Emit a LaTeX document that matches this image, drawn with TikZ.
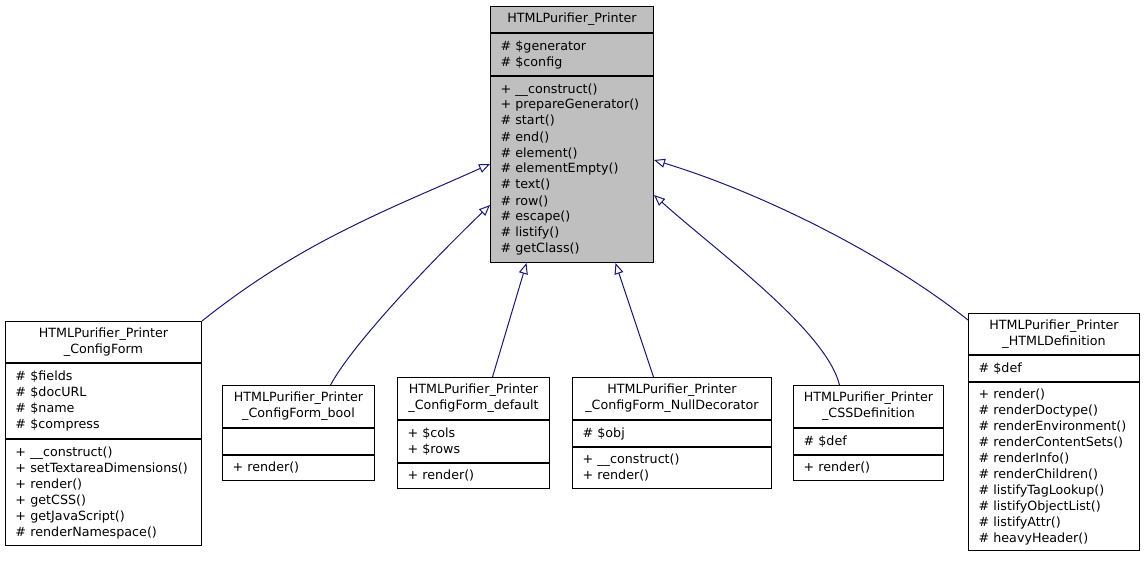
\documentclass[tikz,border=0pt]{standalone}
\usepackage{fontspec}
\setmainfont{DejaVu Sans}
\usetikzlibrary{positioning,arrows.meta}
\definecolor{classgray}{HTML}{BFBFBF}
\definecolor{edgeblue}{HTML}{191970}
\hyphenpenalty=10000
\tikzset{
  part/.style={draw, line width=1pt, fill=white, inner xsep=10pt, inner ysep=0pt,
    font=\fontsize{12.7}{16}\selectfont},
  head/.style={part, align=center, text width=#1},
  body/.style={part, align=left, text width=#1},
  inherit/.style={draw=edgeblue, line width=1pt, -{Triangle[open,length=11pt,width=9pt]}}
}
\begin{document}
\begin{tikzpicture}[x=1pt,y=-1pt]
  \useasboundingbox (0,0) rectangle (1144,560);
  % base class
  \node[head=143pt, fill=classgray, minimum height=26pt, anchor=north west] (printer) at (490,6) {HTMLPurifier\_Printer};
  \node[body=143pt, fill=classgray, minimum height=42pt, below=0pt of printer] (printerAttr) {\# \$generator\\\# \$config};
  \node[body=143pt, fill=classgray, minimum height=186pt, below=0pt of printerAttr] (printerOps)
    {+ \_\_construct()\\+ prepareGenerator()\\\# start()\\\# end()\\\# element()\\\# elementEmpty()\\\# text()\\\# row()\\\# escape()\\\# listify()\\\# getClass()};
  % derived classes
  \node[head=176pt, minimum height=41pt, anchor=north west] (form) at (5,321) {HTMLPurifier\_Printer\\\_ConfigForm};
  \node[body=176pt, minimum height=75pt, below=0pt of form] (formAttr) {\# \$fields\\\# \$docURL\\\# \$name\\\# \$compress};
  \node[body=176pt, minimum height=106pt, below=0pt of formAttr] (formOps)
    {+ \_\_construct()\\+ setTextareaDimensions()\\+ render()\\+ getCSS()\\+ getJavaScript()\\\# renderNamespace()};
  \node[head=132pt, minimum height=42pt, anchor=north west] (bool) at (222,385) {HTMLPurifier\_Printer\\\_ConfigForm\_bool};
  \node[body=132pt, minimum height=26pt, below=0pt of bool] (boolAttr) {};
  \node[body=132pt, minimum height=25pt, below=0pt of boolAttr] (boolOps) {+ render()};
  \node[head=132pt, minimum height=42pt, anchor=north west] (dflt) at (397,377) {HTMLPurifier\_Printer\\\_ConfigForm\_default};
  \node[body=132pt, minimum height=42pt, below=0pt of dflt] (dfltAttr) {+ \$cols\\+ \$rows};
  \node[body=132pt, minimum height=25pt, below=0pt of dfltAttr] (dfltOps) {+ render()};
  \node[head=179pt, minimum height=42pt, anchor=north west] (nulldec) at (572,377) {HTMLPurifier\_Printer\\\_ConfigForm\_NullDecorator};
  \node[body=179pt, minimum height=26pt, below=0pt of nulldec] (nulldecAttr) {\# \$obj};
  \node[body=179pt, minimum height=41pt, below=0pt of nulldecAttr] (nulldecOps) {+ \_\_construct()\\+ render()};
  \node[head=130pt, minimum height=42pt, anchor=north west] (css) at (793,385) {HTMLPurifier\_Printer\\\_CSSDefinition};
  \node[body=130pt, minimum height=26pt, below=0pt of css] (cssAttr) {\# \$def};
  \node[body=130pt, minimum height=25pt, below=0pt of cssAttr] (cssOps) {+ render()};
  \node[head=151pt, minimum height=41pt, anchor=north west] (htmldef) at (968,313) {HTMLPurifier\_Printer\\\_HTMLDefinition};
  \node[body=151pt, minimum height=26pt, below=0pt of htmldef] (htmldefAttr) {\# \$def};
  \node[body=151pt, minimum height=168pt, below=0pt of htmldefAttr] (htmldefOps)
    {+ render()\\\# renderDoctype()\\\# renderEnvironment()\\\# renderContentSets()\\\# renderInfo()\\\# renderChildren()\\\# listifyTagLookup()\\\# listifyObjectList()\\\# listifyAttr()\\\# heavyHeader()};
  % inheritance
  \draw[inherit] (form.north east) .. controls (302,241) and (390,209) .. ([yshift=5.5pt]printerOps.west);
  \draw[inherit] ([xshift=32pt]bool.north) .. controls (355,340) and (440,253) .. ([yshift=-35.5pt]printerOps.west);
  \draw[inherit] ([xshift=19pt]dflt.north) -- ([xshift=-45.5pt]printerOps.south);
  \draw[inherit] ([xshift=-18.5pt]nulldec.north) -- ([xshift=43.5pt]printerOps.south);
  \draw[inherit] ([xshift=-29pt]css.north) .. controls (826,330) and (715,250) .. ([yshift=-25.5pt]printerOps.east);
  \draw[inherit] ([yshift=14pt]htmldef.west) .. controls (882,252) and (759,192) .. ([yshift=9.5pt]printerOps.east);
\end{tikzpicture}
\end{document}
